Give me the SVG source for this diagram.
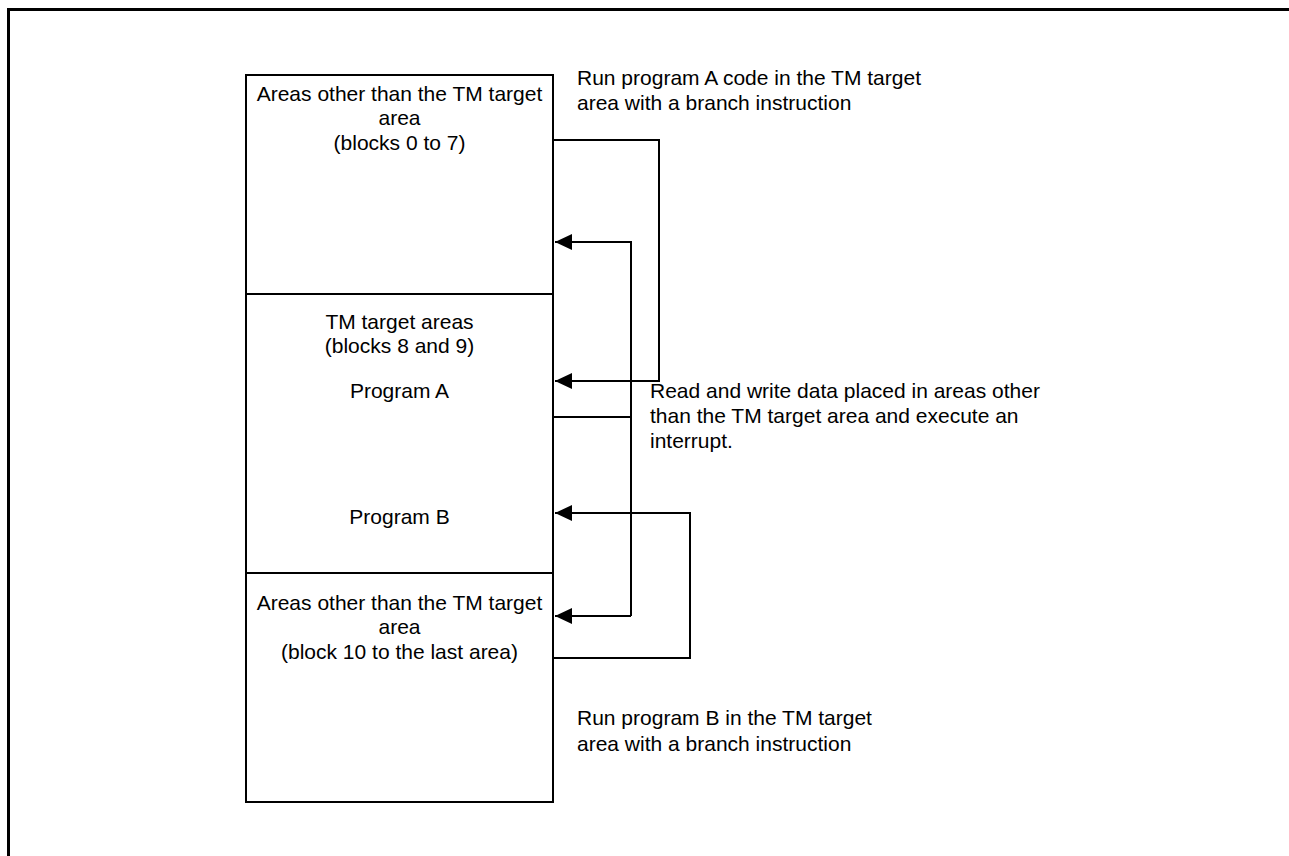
<svg xmlns="http://www.w3.org/2000/svg" width="1289" height="856" viewBox="0 0 1289 856">
<style>
text{font-family:"Liberation Sans",Arial,sans-serif;font-size:21px;fill:#000}
.c{text-anchor:middle}
.box{fill:none;stroke:#000;stroke-width:2}
.ln{fill:none;stroke:#000;stroke-width:2}
</style>
<defs>
<marker id="ah" markerUnits="userSpaceOnUse" markerWidth="18" markerHeight="16" refX="17" refY="8" orient="auto">
<path d="M0,0 L17,8 L0,16 Z" fill="#000"/>
</marker>
</defs>
<rect x="0" y="0" width="1289" height="856" fill="#fff"/>
<path d="M8.5,860 V9.5 H1295" fill="none" stroke="#000" stroke-width="3"/>
<g id="area-top">
<rect class="box" x="246" y="75" width="307" height="219"/>
<text class="c" x="399.5" y="101">Areas other than the TM target</text>
<text class="c" x="399.5" y="125">area</text>
<text class="c" x="399.5" y="150">(blocks 0 to 7)</text>
</g>
<g id="area-tm">
<rect class="box" x="246" y="294" width="307" height="279"/>
<text class="c" x="399.5" y="329">TM target areas</text>
<text class="c" x="399.5" y="353">(blocks 8 and 9)</text>
<text class="c" x="399.5" y="398">Program A</text>
<text class="c" x="399.5" y="524">Program B</text>
</g>
<g id="area-bottom">
<rect class="box" x="246" y="573" width="307" height="229"/>
<text class="c" x="399.5" y="610">Areas other than the TM target</text>
<text class="c" x="399.5" y="634">area</text>
<text class="c" x="399.5" y="659">(block 10 to the last area)</text>
</g>
<g id="connectors">
<path class="ln" d="M553,140 H659 V381 H555" marker-end="url(#ah)"/>
<path class="ln" d="M553,417 H631"/>
<path class="ln" d="M631,616 V242 H555" marker-end="url(#ah)"/>
<path class="ln" d="M631,616 H555" marker-end="url(#ah)"/>
<path class="ln" d="M553,658 H690 V513 H555" marker-end="url(#ah)"/>
</g>
<g id="labels">
<text x="577" y="85">Run program A code in the TM target</text>
<text x="577" y="110">area with a branch instruction</text>
<text x="650" y="398">Read and write data placed in areas other</text>
<text x="650" y="423">than the TM target area and execute an</text>
<text x="650" y="448">interrupt.</text>
<text x="577" y="725">Run program B in the TM target</text>
<text x="577" y="751">area with a branch instruction</text>
</g>
</svg>
